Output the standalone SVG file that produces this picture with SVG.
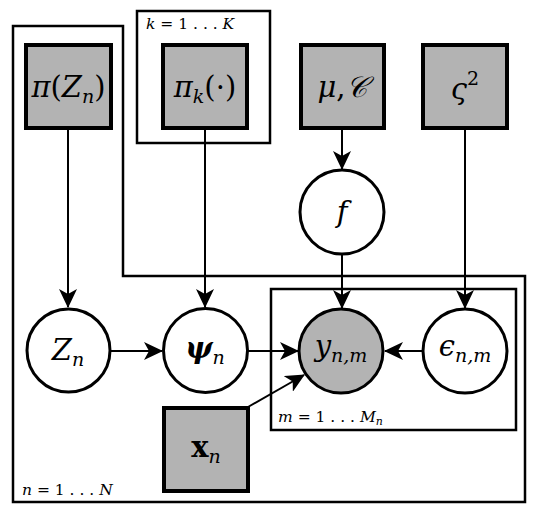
<svg xmlns="http://www.w3.org/2000/svg" width="539" height="515" viewBox="0 0 539 515">
<defs>
<style>
.plate{fill:none;stroke:#000;stroke-width:2.5}
.obs{fill:#b3b3b3;stroke:#000;stroke-width:4}
.lat{fill:#fff;stroke:#000;stroke-width:3}
.obsc{fill:#b3b3b3;stroke:#000;stroke-width:3}
.edge{stroke:#000;stroke-width:2;fill:none;marker-end:url(#ah)}
.t{font-family:"DejaVu Serif",serif;font-style:italic;font-size:29px;fill:#000}
.s{font-size:19px}
.pl{font-family:"DejaVu Serif",serif;font-style:italic;font-size:15.5px;fill:#000}
.up{font-style:normal}
</style>
<marker id="ah" markerUnits="userSpaceOnUse" markerWidth="19" markerHeight="18" viewBox="0 0 19 18" refX="18" refY="9" orient="auto">
<path d="M0,0 L19,9 L0,18 L5,9 Z" fill="#000"/>
</marker>
</defs>
<g id="plates">
<path id="plate-n" class="plate" d="M13,26 H123 V276 H525 V502 H13 Z"/>
<rect id="plate-k" class="plate" x="137" y="11" width="133" height="132"/>
<rect id="plate-m" class="plate" x="271" y="289" width="245" height="141"/>
<text class="pl" x="146" y="29">k <tspan class="up">= 1 . . .</tspan> K</text>
<text class="pl" x="278" y="422">m <tspan class="up">= 1 . . .</tspan> M<tspan font-size="11" dy="3">n</tspan></text>
<text class="pl" x="22" y="495">n <tspan class="up">= 1 . . .</tspan> N</text>
</g>
<g id="connectors">
<line class="edge" x1="68" y1="130" x2="68" y2="307"/>
<line class="edge" x1="205" y1="130" x2="205" y2="307"/>
<line class="edge" x1="342" y1="130" x2="342" y2="169"/>
<line class="edge" x1="465" y1="130" x2="465" y2="308"/>
<line class="edge" x1="342" y1="254" x2="342" y2="308"/>
<line class="edge" x1="110" y1="351" x2="162" y2="351"/>
<line class="edge" x1="248" y1="351" x2="298" y2="351"/>
<line class="edge" x1="423" y1="351" x2="385" y2="351"/>
<line class="edge" x1="248" y1="407" x2="304" y2="375"/>
</g>
<g id="node-piZ">
<rect class="obs" x="26" y="45" width="85" height="83"/>
<text class="t" x="68.5" y="97" text-anchor="middle">π<tspan class="up">(</tspan>Z<tspan class="s" dy="6">n</tspan><tspan class="up" dy="-6">)</tspan></text>
</g>
<g id="node-pik">
<rect class="obs" x="163" y="45" width="84" height="83"/>
<text class="t" x="205" y="97" text-anchor="middle">π<tspan class="s" dy="6">k</tspan><tspan class="up" dy="-6">(·)</tspan></text>
</g>
<g id="node-muC">
<rect class="obs" x="301" y="45" width="83" height="83"/>
<text class="t" x="342" y="97" text-anchor="middle">μ<tspan class="up">,</tspan>𝒞</text>
</g>
<g id="node-varsigma">
<rect class="obs" x="423" y="45" width="84" height="83"/>
<text class="t" x="465" y="99" text-anchor="middle">ς<tspan class="s up" dy="-14">2</tspan></text>
</g>
<g id="node-f">
<circle class="lat" cx="342" cy="212" r="42"/>
<text class="t" x="342" y="222" text-anchor="middle">f</text>
</g>
<g id="node-Z">
<circle class="lat" cx="68.5" cy="350.5" r="41.5"/>
<text class="t" x="68" y="360" text-anchor="middle">Z<tspan class="s" dy="6">n</tspan></text>
</g>
<g id="node-psi">
<circle class="lat" cx="205.5" cy="350.5" r="42"/>
<text class="t" x="205" y="358" text-anchor="middle" font-weight="bold">ψ<tspan class="s" font-weight="normal" dy="6">n</tspan></text>
</g>
<g id="node-y">
<circle class="obsc" cx="341" cy="351" r="42"/>
<text class="t" x="341" y="356" text-anchor="middle">y<tspan class="s" dy="6">n,m</tspan></text>
</g>
<g id="node-eps">
<circle class="lat" cx="465" cy="351" r="42"/>
<text class="t" x="465" y="356" text-anchor="middle">ϵ<tspan class="s" dy="6">n,m</tspan></text>
</g>
<g id="node-x">
<rect class="obs" x="164" y="408" width="84" height="83"/>
<text class="t" x="206" y="457" text-anchor="middle"><tspan class="up" font-weight="bold">x</tspan><tspan class="s" dy="6">n</tspan></text>
</g>
</svg>
